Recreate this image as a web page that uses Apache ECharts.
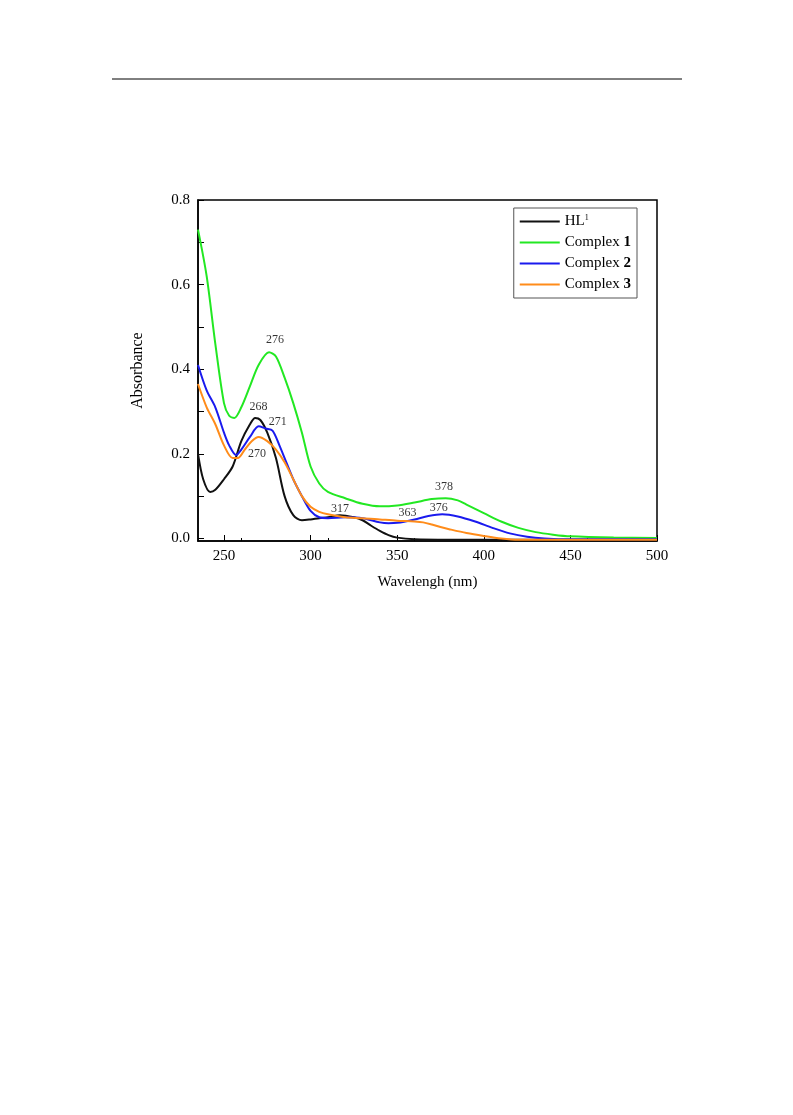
<!DOCTYPE html><html><head><meta charset="utf-8"><script src="https://cdn.jsdelivr.net/npm/echarts@6/dist/echarts.min.js"></script></head><body style="margin:0;background:#fff"><div id="c" style="width:793px;height:1115px"></div><script>
const hl1=[[235,0.20],[238,0.14],[242,0.11],[245,0.115],[250,0.14],[255,0.17],[260,0.23],[265,0.27],[268,0.285],[271,0.28],[275,0.25],[280,0.19],[285,0.10],[290,0.055],[295,0.043],[300,0.045],[305,0.048],[310,0.05],[317,0.055],[325,0.05],[330,0.043],[335,0.03],[340,0.018],[345,0.008],[350,0.002],[360,-0.002],[380,-0.003],[500,-0.003]];
const c1=[[235,0.73],[240,0.62],[245,0.46],[250,0.32],[253,0.29],[256,0.285],[260,0.31],[265,0.36],[270,0.41],[276,0.44],[280,0.43],[285,0.38],[290,0.32],[295,0.25],[300,0.17],[305,0.13],[310,0.11],[320,0.095],[330,0.082],[340,0.076],[350,0.078],[360,0.085],[370,0.093],[378,0.095],[385,0.09],[390,0.08],[400,0.06],[410,0.04],[420,0.025],[430,0.015],[440,0.009],[450,0.005],[475,0.002],[500,0.001]];
const c2=[[235,0.41],[240,0.35],[245,0.31],[250,0.25],[253,0.22],[257,0.197],[260,0.21],[265,0.24],[270,0.265],[274,0.26],[278,0.255],[282,0.22],[285,0.19],[290,0.14],[295,0.10],[300,0.065],[305,0.05],[310,0.048],[320,0.05],[330,0.048],[340,0.038],[345,0.036],[350,0.037],[360,0.045],[368,0.053],[376,0.057],[385,0.052],[395,0.04],[405,0.025],[415,0.012],[425,0.004],[435,0.0],[450,-0.002],[500,-0.002]];
const c3=[[235,0.365],[240,0.31],[245,0.27],[250,0.22],[255,0.19],[258,0.19],[262,0.21],[266,0.23],[270,0.24],[275,0.23],[280,0.21],[285,0.18],[290,0.14],[295,0.10],[300,0.075],[305,0.063],[310,0.057],[320,0.05],[330,0.048],[340,0.045],[350,0.042],[360,0.04],[365,0.038],[370,0.033],[375,0.027],[380,0.022],[390,0.013],[400,0.006],[410,0.0],[420,-0.003],[500,-0.003]];
const notes=[[279.5,0.469,'276'],[270,0.31,'268'],[281,0.275,'271'],[269,0.2,'270'],[317,0.07,'317'],[356,0.06,'363'],[374,0.073,'376'],[377,0.123,'378']];
const F='Liberation Serif';
const mk=(n,d,col)=>({name:n,type:'line',data:d,smooth:0.3,showSymbol:false,lineStyle:{color:col,width:2},itemStyle:{color:col}});
const ch=echarts.init(document.getElementById('c'));
ch.setOption({animation:false,
grid:{left:198,right:136,top:200,bottom:574,show:true,borderColor:'#000',borderWidth:1.5,backgroundColor:'transparent'},
graphic:[{type:'line',shape:{x1:112,y1:79,x2:682,y2:79},style:{stroke:'#000',lineWidth:1}}],
legend:{right:156,top:208,orient:'vertical',itemWidth:40,itemHeight:2,itemGap:6,padding:[6,6,6,6],borderColor:'#555',borderWidth:1,icon:'rect',
 textStyle:{fontFamily:F,fontSize:15,color:'#000',rich:{b:{fontFamily:F,fontSize:15,fontWeight:'bold'},s:{fontFamily:F,fontSize:8,verticalAlign:'top'}}},
 formatter:n=>n==='HL1'?'HL{s|1}':n.replace(/(\d)$/,'{b|$1}'),data:['HL1','Complex 1','Complex 2','Complex 3']},
xAxis:{type:'value',min:235,max:500,interval:50,name:'Wavelengh (nm)',nameLocation:'middle',nameGap:34,nameTextStyle:{fontFamily:F,fontSize:15,color:'#000'},
 axisLine:{onZero:false,lineStyle:{color:'#000',width:1.5}},axisTick:{inside:true,length:6,lineStyle:{color:'#000'},customValues:[250,300,350,400,450,500]},minorTick:{show:true,splitNumber:2,length:3,lineStyle:{color:'#000'}},
 axisLabel:{fontFamily:F,fontSize:15,color:'#000',customValues:[250,300,350,400,450,500]},splitLine:{show:false}},
yAxis:{type:'value',min:-0.006,max:0.8,name:'Absorbance',nameLocation:'middle',nameGap:52,nameTextStyle:{fontFamily:F,fontSize:16,color:'#000'},
 axisLine:{lineStyle:{color:'#000',width:1.5}},axisTick:{inside:true,length:6,lineStyle:{color:'#000'},customValues:[0,0.1,0.2,0.3,0.4,0.5,0.6,0.7,0.8]},minorTick:{show:false},
 axisLabel:{fontFamily:F,fontSize:15,color:'#000',formatter:v=>v.toFixed(1),customValues:[0,0.2,0.4,0.6,0.8]},splitLine:{show:false}},
series:[mk('HL1',hl1,'#111'),mk('Complex 1',c1,'#22e822'),mk('Complex 2',c2,'#1a1aee'),mk('Complex 3',c3,'#ff8c1a'),
 {type:'scatter',data:notes.map(n=>({value:[n[0],n[1]],label:{formatter:n[2]}})),symbolSize:0,silent:true,label:{show:true,position:'inside',fontFamily:F,fontSize:12,color:'#000'}}]
});
</script></body></html>
